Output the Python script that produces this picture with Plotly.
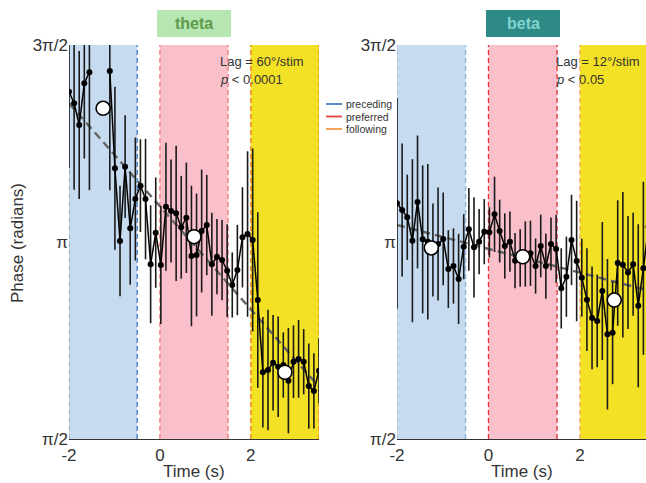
import numpy as np
import plotly.graph_objects as go

PI = np.pi

# ---------------- data ----------------
time = np.linspace(-2.0, 3.5, 50)

theta_phase = [4.340, 4.248, 4.075, 4.407, 4.495, None, None, None, 4.505, 3.729,
               3.150, 3.742, 3.251, 3.484, 3.591, 3.484, 2.964, 3.216, 2.958, 3.423,
               3.389, 3.370, 3.259, 3.335, 3.030, 3.038, 3.229, 3.277, 2.964, 3.024,
               2.998, 2.913, 2.799, 2.918, 3.179, 3.205, 3.158, 2.679, 2.103, 2.121,
               2.179, 2.147, 2.161, 2.036, 2.187, 2.209, 2.187, 1.993, 1.954, 2.115]
theta_err = [0.61, 0.69, 0.59, 0.60, 0.94, None, None, None, 0.95, 0.65,
             0.44, 0.41, 0.45, 0.49, 0.37, 0.48, 0.47, 0.44, 0.47, 0.51,
             0.41, 0.54, 0.41, 0.44, 0.56, 0.49, 0.49, 0.40, 0.41, 0.30,
             0.32, 0.37, 0.26, 0.36, 0.40, 0.66, 0.73, 0.70, 0.44, 0.48,
             0.38, 0.40, 0.26, 0.42, 0.29, 0.31, 0.26, 0.34, 0.30, 0.26]

beta_phase = [3.450, 3.397, 3.339, 3.152, 3.461, 3.163, 3.144, 3.078, 3.126, 3.166,
              2.926, 2.950, 2.847, 3.104, 3.243, 3.099, 3.144, 3.224, 3.219, 3.362,
              3.229, 3.110, 3.144, 2.993, 3.014, 3.046, 3.051, 2.950, 3.110, 2.950,
              3.126, 3.086, 2.772, 2.865, 3.158, 2.990, 2.857, 2.682, 2.536, 2.512,
              2.751, 2.406, 2.418, 2.974, 2.961, 2.898, 2.964, 2.633, 2.932, 3.264]
beta_err = [0.84, 0.53, 0.34, 0.65, 0.53, 0.59, 0.62, 0.37, 0.45, 0.37,
            0.31, 0.30, 0.36, 0.26, 0.33, 0.40, 0.26, 0.26, 0.20, 0.30,
            0.25, 0.26, 0.24, 0.22, 0.23, 0.26, 0.26, 0.22, 0.25, 0.26,
            0.21, 0.27, 0.32, 0.32, 0.36, 0.48, 0.31, 0.41, 0.41, 0.37,
            0.55, 0.60, 0.41, 0.50, 0.58, 0.45, 0.41, 0.65, 0.69, 0.48]

window_centers = [-1.25, 0.75, 2.75]
theta_window_means = [4.208, 3.184, 2.103]
beta_window_means = [3.094, 3.024, 2.679]

fit_x = [-2.0, 3.5]
theta_fit = [4.248, 1.988]
beta_fit = [3.277, 2.755]

windows = {"preceding": (-2.0, -0.5), "preferred": (0.0, 1.5), "following": (2.0, 3.5)}
legend_labels = ["preceding", "preferred", "following"]
panel_titles = ["theta", "beta"]
lag_texts = ["Lag = 60°/stim", "Lag = 12°/stim"]
p_texts = ["<i>p</i> < 0.0001", "<i>p</i> < 0.05"]
xtick_vals = [-2, 0, 2]
xtick_text = ["-2", "0", "2"]
ytick_vals = [PI / 2, PI, 3 * PI / 2]
ytick_text = ["π/2", "π", "3π/2"]

# ---------------- styling ----------------
W, H = 646, 483
FONT = "Liberation Sans, Arial, sans-serif"
TXT = "#333333"
fill_cols = {"preceding": "#c6dbf0", "preferred": "#f9c0cb", "following": "#f3e125"}
panel_line_cols = [
    {"edge": "#8a97a8", "preceding": "#3f78c2", "preferred": "#f07a7a", "following": "#f07d12"},
    {"edge": "#9bb7d6", "preceding": "#8ab4e0", "preferred": "#e53030", "following": "#f4a868"},
]
legend_cols = ["#4a7fc0", "#e8413a", "#f39a4a"]

px_dom = [(69, 319), (397, 646)]
x_ranges = [[-2, 3.5], [-2, 3.445]]
y_dom = [1 - 439 / H, 1 - 45 / H]

fig = go.Figure()
shapes = []
annotations = []

panels = [(theta_phase, theta_err, theta_window_means, theta_fit),
          (beta_phase, beta_err, beta_window_means, beta_fit)]

for i, (ph, er, wm, fit) in enumerate(panels):
    sfx = "" if i == 0 else str(i + 1)
    xa, ya = "x" + sfx, "y" + sfx
    # shaded windows
    for name, (a, b) in windows.items():
        shapes.append(dict(type="rect", xref=xa, yref=ya, x0=a, x1=b, y0=PI / 2, y1=3 * PI / 2,
                           fillcolor=fill_cols[name], line=dict(width=0), layer="below"))
    # dashed boundaries
    lc = panel_line_cols[i]
    bounds = [(-2.0, lc["edge"]), (-0.5, lc["preceding"]), (0.0, lc["preferred"]),
              (1.5, lc["preferred"]), (2.0, lc["following"]), (3.5, lc["following"])]
    for xv, col in bounds:
        shapes.append(dict(type="line", xref=xa, yref=ya, x0=xv, x1=xv, y0=PI / 2, y1=3 * PI / 2,
                           line=dict(color=col, width=1.3, dash="5px,3px"), layer="below"))
    # regression line
    fig.add_trace(go.Scatter(x=fit_x, y=fit, mode="lines", xaxis=xa, yaxis=ya,
                             line=dict(color="#666666", width=2.5, dash="8px,5px"),
                             showlegend=False, hoverinfo="skip"))
    # data
    fig.add_trace(go.Scatter(x=time, y=ph, mode="lines+markers", xaxis=xa, yaxis=ya,
                             line=dict(color="black", width=1.5),
                             marker=dict(color="black", size=6),
                             error_y=dict(type="data", array=er, visible=True, thickness=1.6,
                                          width=0, color="#1a1a1a"),
                             connectgaps=False, showlegend=False, cliponaxis=True))
    # window means
    fig.add_trace(go.Scatter(x=window_centers, y=wm, mode="markers", xaxis=xa, yaxis=ya,
                             marker=dict(color="white", size=14, line=dict(color="black", width=1.6)),
                             showlegend=False))

    x0p, x1p = px_dom[i]
    cx = (x0p + x1p) / 2
    # panel title box
    bx0, bx1 = (157, 231) if i == 0 else (486, 560)
    shapes.append(dict(type="rect", xref="paper", yref="paper", x0=bx0 / W, x1=bx1 / W,
                       y0=1 - 37 / H, y1=1 - 10 / H,
                       fillcolor="#b6e6b2" if i == 0 else "#2e8a87", line=dict(width=0)))
    annotations.append(dict(xref="paper", yref="paper", x=(bx0 + bx1) / 2 / W, y=1 - 23.5 / H,
                            text="<b>%s</b>" % panel_titles[i], showarrow=False,
                            font=dict(family=FONT, size=16, color="#5c9a4c" if i == 0 else "#80d4cc"),
                            xanchor="center", yanchor="middle"))
    # lag / p annotations
    tx = 218 if i == 0 else 554
    annotations.append(dict(xref="paper", yref="paper", x=tx / W, y=1 - 62 / H, text=lag_texts[i],
                            showarrow=False, xanchor="left", yanchor="middle",
                            font=dict(family=FONT, size=13, color=TXT)))
    annotations.append(dict(xref="paper", yref="paper", x=tx / W, y=1 - 80 / H, text=p_texts[i],
                            showarrow=False, xanchor="left", yanchor="middle",
                            font=dict(family=FONT, size=13, color=TXT)))
    # x title
    annotations.append(dict(xref="paper", yref="paper", x=cx / W, y=1 - 471 / H, text="Time (s)",
                            showarrow=False, xanchor="center", yanchor="middle",
                            font=dict(family=FONT, size=17, color=TXT)))

    axis_common = dict(showgrid=False, zeroline=False, ticks="", automargin=False,
                       tickfont=dict(family=FONT, size=17, color=TXT))
    fig.layout["xaxis" + sfx] = dict(domain=[x0p / W, x1p / W], range=x_ranges[i], anchor=ya,
                                     tickvals=xtick_vals, ticktext=xtick_text,
                                     showline=True, linecolor="#333333", linewidth=1.2,
                                     **axis_common)
    fig.layout["yaxis" + sfx] = dict(domain=y_dom, range=[PI / 2, 3 * PI / 2], anchor=xa,
                                     tickvals=ytick_vals, ticktext=ytick_text, showline=False,
                                     **axis_common)

# y title
annotations.append(dict(xref="paper", yref="paper", x=18 / W, y=1 - 243 / H, text="Phase (radians)",
                        showarrow=False, textangle=-90, xanchor="center", yanchor="middle",
                        font=dict(family=FONT, size=17, color=TXT)))

# legend (manual)
for k, lab in enumerate(legend_labels):
    yy = 1 - (104 + 12.5 * k) / H
    shapes.append(dict(type="line", xref="paper", yref="paper", x0=326 / W, x1=342 / W, y0=yy, y1=yy,
                       line=dict(color=legend_cols[k], width=1.8)))
    annotations.append(dict(xref="paper", yref="paper", x=344 / W, y=yy, text=lab, showarrow=False,
                            xanchor="left", yanchor="middle",
                            font=dict(family=FONT, size=10.5, color=TXT)))

fig.update_layout(width=W, height=H, margin=dict(l=0, r=0, t=0, b=0),
                  paper_bgcolor="white", plot_bgcolor="white",
                  shapes=shapes, annotations=annotations, showlegend=False)

fig.write_html("out.html", config={"displayModeBar": False},
               post_script="document.body.style.margin='0';document.body.style.overflow='hidden';")
